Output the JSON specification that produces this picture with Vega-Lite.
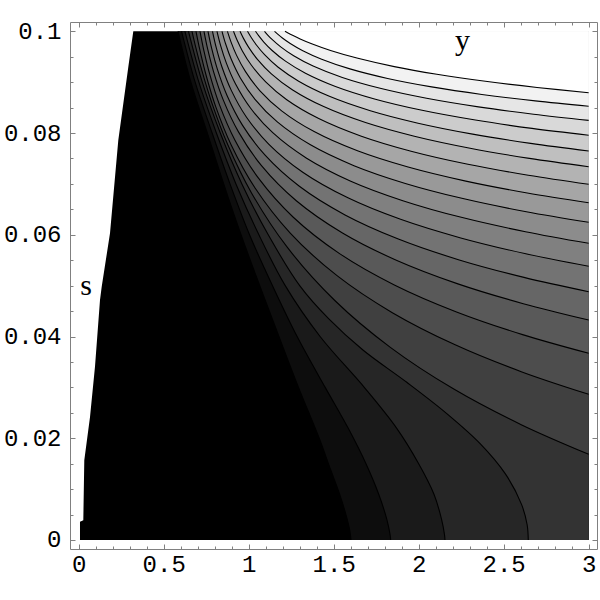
{
  "$schema": "https://vega.github.io/schema/vega-lite/v6.json",
  "width": 527,
  "height": 527,
  "autosize": {"type": "none"},
  "padding": {"left": 70, "top": 22, "right": 3, "bottom": 51},
  "background": "white",
  "config": {"view": {"stroke": null}},
  "datasets": {
    "edge": [
      {"x": 0.0076, "s": 0}, {"x": 0.0076, "s": 0.0036}, {"x": 0.0271, "s": 0.0039}, {"x": 0.0329, "s": 0.0157},
      {"x": 0.0665, "s": 0.0242}, {"x": 0.0959, "s": 0.0341}, {"x": 0.1253, "s": 0.0472}, {"x": 0.1353, "s": 0.0498},
      {"x": 0.1841, "s": 0.0603}, {"x": 0.2329, "s": 0.0786}, {"x": 0.2918, "s": 0.093}, {"x": 0.3212, "s": 0.1}
    ],
    "contours": [
      {"c":1,"i":0,"x":0.584,"s":0.1},{"c":1,"i":1,"x":0.66,"s":0.09},{"c":1,"i":2,"x":0.757,"s":0.08},{"c":1,"i":3,"x":0.853,"s":0.07},{"c":1,"i":4,"x":0.955,"s":0.06},{"c":1,"i":5,"x":1.065,"s":0.05},{"c":1,"i":6,"x":1.178,"s":0.04},{"c":1,"i":7,"x":1.293,"s":0.03},{"c":1,"i":8,"x":1.415,"s":0.02},{"c":1,"i":9,"x":1.48,"s":0.014},{"c":1,"i":10,"x":1.535,"s":0.009},{"c":1,"i":11,"x":1.572,"s":0.005},{"c":1,"i":12,"x":1.594,"s":0.002},{"c":1,"i":13,"x":1.602,"s":0},
      {"c":2,"i":0,"x":0.605,"s":0.1},{"c":2,"i":1,"x":0.685,"s":0.09},{"c":2,"i":2,"x":0.785,"s":0.08},{"c":2,"i":3,"x":0.89,"s":0.07},{"c":2,"i":4,"x":1.005,"s":0.06},{"c":2,"i":5,"x":1.14,"s":0.05},{"c":2,"i":6,"x":1.285,"s":0.04},{"c":2,"i":7,"x":1.45,"s":0.03},{"c":2,"i":8,"x":1.585,"s":0.022},{"c":2,"i":9,"x":1.69,"s":0.015},{"c":2,"i":10,"x":1.765,"s":0.009},{"c":2,"i":11,"x":1.813,"s":0.004},{"c":2,"i":12,"x":1.832,"s":0.001},{"c":2,"i":13,"x":1.8353,"s":0},
      {"c":3,"i":0,"x":0.625,"s":0.1},{"c":3,"i":1,"x":0.707,"s":0.09},{"c":3,"i":2,"x":0.81,"s":0.08},{"c":3,"i":3,"x":0.925,"s":0.07},{"c":3,"i":4,"x":1.06,"s":0.06},{"c":3,"i":5,"x":1.215,"s":0.05},{"c":3,"i":6,"x":1.42,"s":0.04},{"c":3,"i":7,"x":1.68,"s":0.03},{"c":3,"i":8,"x":1.87,"s":0.022},{"c":3,"i":9,"x":2.0,"s":0.015},{"c":3,"i":10,"x":2.09,"s":0.009},{"c":3,"i":11,"x":2.135,"s":0.004},{"c":3,"i":12,"x":2.152,"s":0.001},{"c":3,"i":13,"x":2.1547,"s":0},
      {"c":4,"i":0,"x":0.646,"s":0.1},{"c":4,"i":1,"x":0.727,"s":0.09},{"c":4,"i":2,"x":0.833,"s":0.08},{"c":4,"i":3,"x":0.96,"s":0.07},{"c":4,"i":4,"x":1.115,"s":0.06},{"c":4,"i":5,"x":1.3,"s":0.05},{"c":4,"i":6,"x":1.47,"s":0.0435},{"c":4,"i":7,"x":1.672,"s":0.03735},{"c":4,"i":8,"x":1.93,"s":0.031},{"c":4,"i":9,"x":2.16,"s":0.025},{"c":4,"i":10,"x":2.36,"s":0.019},{"c":4,"i":11,"x":2.51,"s":0.013},{"c":4,"i":12,"x":2.605,"s":0.007},{"c":4,"i":13,"x":2.638,"s":0.003},{"c":4,"i":14,"x":2.6447,"s":0},
      {"c":5,"i":0,"x":0.6665,"s":0.1},{"c":5,"i":1,"x":0.6898,"s":0.0967},{"c":5,"i":2,"x":0.7248,"s":0.09226},{"c":5,"i":3,"x":0.7832,"s":0.08594},{"c":5,"i":4,"x":0.8765,"s":0.07774},{"c":5,"i":5,"x":1.0165,"s":0.06823},{"c":5,"i":6,"x":1.2265,"s":0.05756},{"c":5,"i":7,"x":1.5066,"s":0.04708},{"c":5,"i":8,"x":1.8333,"s":0.03787},{"c":5,"i":9,"x":2.2066,"s":0.02967},{"c":5,"i":10,"x":2.6033,"s":0.02267},{"c":5,"i":11,"x":3,"s":0.01685},
      {"c":6,"i":0,"x":0.69,"s":0.1},{"c":6,"i":1,"x":0.7131,"s":0.09628},{"c":6,"i":2,"x":0.7478,"s":0.09156},{"c":6,"i":3,"x":0.8055,"s":0.08524},{"c":6,"i":4,"x":0.8979,"s":0.07759},{"c":6,"i":5,"x":1.0365,"s":0.06924},{"c":6,"i":6,"x":1.2444,"s":0.06034},{"c":6,"i":7,"x":1.5216,"s":0.05191},{"c":6,"i":8,"x":1.845,"s":0.04469},{"c":6,"i":9,"x":2.2146,"s":0.03837},{"c":6,"i":10,"x":2.6073,"s":0.03304},{"c":6,"i":11,"x":3,"s":0.02864},
      {"c":7,"i":0,"x":0.7135,"s":0.1},{"c":7,"i":1,"x":0.7364,"s":0.09621},{"c":7,"i":2,"x":0.7707,"s":0.09157},{"c":7,"i":3,"x":0.8278,"s":0.08559},{"c":7,"i":4,"x":0.9193,"s":0.07859},{"c":7,"i":5,"x":1.0565,"s":0.07118},{"c":7,"i":6,"x":1.2623,"s":0.06345},{"c":7,"i":7,"x":1.5366,"s":0.05625},{"c":7,"i":8,"x":1.8568,"s":0.05014},{"c":7,"i":9,"x":2.2226,"s":0.04483},{"c":7,"i":10,"x":2.6113,"s":0.04037},{"c":7,"i":11,"x":3,"s":0.0367},
      {"c":8,"i":0,"x":0.737,"s":0.1},{"c":8,"i":1,"x":0.7596,"s":0.09638},{"c":8,"i":2,"x":0.7936,"s":0.09203},{"c":8,"i":3,"x":0.8502,"s":0.08652},{"c":8,"i":4,"x":0.9407,"s":0.08018},{"c":8,"i":5,"x":1.0765,"s":0.07354},{"c":8,"i":6,"x":1.2801,"s":0.06669},{"c":8,"i":7,"x":1.5517,"s":0.06035},{"c":8,"i":8,"x":1.8685,"s":0.055},{"c":8,"i":9,"x":2.2306,"s":0.05035},{"c":8,"i":10,"x":2.6153,"s":0.04646},{"c":8,"i":11,"x":3,"s":0.04325},
      {"c":9,"i":0,"x":0.7606,"s":0.1},{"c":9,"i":1,"x":0.783,"s":0.09654},{"c":9,"i":2,"x":0.8166,"s":0.09246},{"c":9,"i":3,"x":0.8726,"s":0.08738},{"c":9,"i":4,"x":0.9621,"s":0.08161},{"c":9,"i":5,"x":1.0965,"s":0.07565},{"c":9,"i":6,"x":1.298,"s":0.06954},{"c":9,"i":7,"x":1.5668,"s":0.06391},{"c":9,"i":8,"x":1.8803,"s":0.05917},{"c":9,"i":9,"x":2.2386,"s":0.05506},{"c":9,"i":10,"x":2.6193,"s":0.05163},{"c":9,"i":11,"x":3,"s":0.04881},
      {"c":10,"i":0,"x":0.787,"s":0.1},{"c":10,"i":1,"x":0.8091,"s":0.09679},{"c":10,"i":2,"x":0.8423,"s":0.09303},{"c":10,"i":3,"x":0.8977,"s":0.08839},{"c":10,"i":4,"x":0.9862,"s":0.08316},{"c":10,"i":5,"x":1.119,"s":0.07779},{"c":10,"i":6,"x":1.3181,"s":0.0723},{"c":10,"i":7,"x":1.5837,"s":0.06727},{"c":10,"i":8,"x":1.8935,"s":0.06304},{"c":10,"i":9,"x":2.2476,"s":0.05938},{"c":10,"i":10,"x":2.6238,"s":0.05631},{"c":10,"i":11,"x":3,"s":0.0538},
      {"c":11,"i":0,"x":0.8135,"s":0.1},{"c":11,"i":1,"x":0.8354,"s":0.09714},{"c":11,"i":2,"x":0.8682,"s":0.09379},{"c":11,"i":3,"x":0.9228,"s":0.08963},{"c":11,"i":4,"x":1.0103,"s":0.08492},{"c":11,"i":5,"x":1.1415,"s":0.08007},{"c":11,"i":6,"x":1.3383,"s":0.07511},{"c":11,"i":7,"x":1.6006,"s":0.07054},{"c":11,"i":8,"x":1.9068,"s":0.06671},{"c":11,"i":9,"x":2.2566,"s":0.06338},{"c":11,"i":10,"x":2.6283,"s":0.0606},{"c":11,"i":11,"x":3,"s":0.05832},
      {"c":12,"i":0,"x":0.843,"s":0.1},{"c":12,"i":1,"x":0.8646,"s":0.0975},{"c":12,"i":2,"x":0.8969,"s":0.09454},{"c":12,"i":3,"x":0.9509,"s":0.09083},{"c":12,"i":4,"x":1.0371,"s":0.08661},{"c":12,"i":5,"x":1.1666,"s":0.08223},{"c":12,"i":6,"x":1.3607,"s":0.07773},{"c":12,"i":7,"x":1.6195,"s":0.07359},{"c":12,"i":8,"x":1.9215,"s":0.0701},{"c":12,"i":9,"x":2.2666,"s":0.06707},{"c":12,"i":10,"x":2.6333,"s":0.06453},{"c":12,"i":11,"x":3,"s":0.06245},
      {"c":13,"i":0,"x":0.875,"s":0.1},{"c":13,"i":1,"x":0.8963,"s":0.09788},{"c":13,"i":2,"x":0.9281,"s":0.09532},{"c":13,"i":3,"x":0.9813,"s":0.09207},{"c":13,"i":4,"x":1.0663,"s":0.08831},{"c":13,"i":5,"x":1.1938,"s":0.08437},{"c":13,"i":6,"x":1.385,"s":0.08029},{"c":13,"i":7,"x":1.64,"s":0.07651},{"c":13,"i":8,"x":1.9375,"s":0.07332},{"c":13,"i":9,"x":2.2775,"s":0.07055},{"c":13,"i":10,"x":2.6388,"s":0.06822},{"c":13,"i":11,"x":3,"s":0.06631},
      {"c":14,"i":0,"x":0.9106,"s":0.1},{"c":14,"i":1,"x":0.9315,"s":0.09828},{"c":14,"i":2,"x":0.9628,"s":0.09615},{"c":14,"i":3,"x":1.0151,"s":0.09337},{"c":14,"i":4,"x":1.1,"s":0.09007},{"c":14,"i":5,"x":1.224,"s":0.08655},{"c":14,"i":6,"x":1.412,"s":0.08285},{"c":14,"i":7,"x":1.6628,"s":0.07938},{"c":14,"i":8,"x":1.9553,"s":0.07643},{"c":14,"i":9,"x":2.2896,"s":0.07386},{"c":14,"i":10,"x":2.6448,"s":0.0717},{"c":14,"i":11,"x":3,"s":0.06992},
      {"c":15,"i":0,"x":0.9488,"s":0.1},{"c":15,"i":1,"x":0.9693,"s":0.09861},{"c":15,"i":2,"x":1.0001,"s":0.09685},{"c":15,"i":3,"x":1.0514,"s":0.09449},{"c":15,"i":4,"x":1.1334,"s":0.09164},{"c":15,"i":5,"x":1.2565,"s":0.08852},{"c":15,"i":6,"x":1.4411,"s":0.0852},{"c":15,"i":7,"x":1.6872,"s":0.08206},{"c":15,"i":8,"x":1.9744,"s":0.07937},{"c":15,"i":9,"x":2.3026,"s":0.07701},{"c":15,"i":10,"x":2.6513,"s":0.07502},{"c":15,"i":11,"x":3,"s":0.07338},
      {"c":16,"i":0,"x":0.993,"s":0.1},{"c":16,"i":1,"x":1.0131,"s":0.09887},{"c":16,"i":2,"x":1.0432,"s":0.0974},{"c":16,"i":3,"x":1.0934,"s":0.0954},{"c":16,"i":4,"x":1.1736,"s":0.09293},{"c":16,"i":5,"x":1.294,"s":0.09019},{"c":16,"i":6,"x":1.4747,"s":0.08722},{"c":16,"i":7,"x":1.7155,"s":0.08439},{"c":16,"i":8,"x":1.9965,"s":0.08194},{"c":16,"i":9,"x":2.3176,"s":0.07979},{"c":16,"i":10,"x":2.6588,"s":0.07797},{"c":16,"i":11,"x":3,"s":0.07647},
      {"c":17,"i":0,"x":1.04,"s":0.1},{"c":17,"i":1,"x":1.0596,"s":0.09909},{"c":17,"i":2,"x":1.089,"s":0.09789},{"c":17,"i":3,"x":1.138,"s":0.09623},{"c":17,"i":4,"x":1.2164,"s":0.09413},{"c":17,"i":5,"x":1.334,"s":0.09176},{"c":17,"i":6,"x":1.5104,"s":0.08916},{"c":17,"i":7,"x":1.7456,"s":0.08665},{"c":17,"i":8,"x":2.02,"s":0.08447},{"c":17,"i":9,"x":2.3336,"s":0.08255},{"c":17,"i":10,"x":2.6668,"s":0.08091},{"c":17,"i":11,"x":3,"s":0.07956},
      {"c":18,"i":0,"x":1.093,"s":0.1},{"c":18,"i":1,"x":1.1121,"s":0.09927},{"c":18,"i":2,"x":1.1407,"s":0.0983},{"c":18,"i":3,"x":1.1884,"s":0.09693},{"c":18,"i":4,"x":1.2646,"s":0.09518},{"c":18,"i":5,"x":1.379,"s":0.09316},{"c":18,"i":6,"x":1.5507,"s":0.09092},{"c":18,"i":7,"x":1.7795,"s":0.08874},{"c":18,"i":8,"x":2.0465,"s":0.08683},{"c":18,"i":9,"x":2.3516,"s":0.08514},{"c":18,"i":10,"x":2.6758,"s":0.0837},{"c":18,"i":11,"x":3,"s":0.0825},
      {"c":19,"i":0,"x":1.152,"s":0.1},{"c":19,"i":1,"x":1.1705,"s":0.09945},{"c":19,"i":2,"x":1.1982,"s":0.09869},{"c":19,"i":3,"x":1.2444,"s":0.09761},{"c":19,"i":4,"x":1.3183,"s":0.09619},{"c":19,"i":5,"x":1.4292,"s":0.09452},{"c":19,"i":6,"x":1.5955,"s":0.09262},{"c":19,"i":7,"x":1.8173,"s":0.09074},{"c":19,"i":8,"x":2.076,"s":0.08908},{"c":19,"i":9,"x":2.3717,"s":0.08759},{"c":19,"i":10,"x":2.6858,"s":0.08632},{"c":19,"i":11,"x":3,"s":0.08526},
      {"c":20,"i":0,"x":1.2135,"s":0.1},{"c":20,"i":1,"x":1.2314,"s":0.09967},{"c":20,"i":2,"x":1.2582,"s":0.09921},{"c":20,"i":3,"x":1.3028,"s":0.0985},{"c":20,"i":4,"x":1.3743,"s":0.0975},{"c":20,"i":5,"x":1.4815,"s":0.09623},{"c":20,"i":6,"x":1.6423,"s":0.09469},{"c":20,"i":7,"x":1.8566,"s":0.09306},{"c":20,"i":8,"x":2.1068,"s":0.09156},{"c":20,"i":9,"x":2.3926,"s":0.09017},{"c":20,"i":10,"x":2.6963,"s":0.08896},{"c":20,"i":11,"x":3,"s":0.08793}
    ],
    "labels": [
      {"x": 0.043, "s": 0.04816, "t": "s"},
      {"x": 2.258, "s": 0.09623, "t": "y"}
    ]
  },
  "resolve": {"axis": {"x": "independent", "y": "independent"}},
  "layer": [
    {
      "data": {"name": "edge"},
      "mark": {"type": "area", "orient": "horizontal", "interpolate": "linear", "color": "black"},
      "encoding": {
        "y": {"field": "s", "type": "quantitative", "scale": {"domain": [-0.00177, 0.10183], "nice": false, "zero": false},
          "axis": {"orient": "left", "title": null, "grid": false,
            "values": [0,0.005,0.01,0.015,0.02,0.025,0.03,0.035,0.04,0.045,0.05,0.055,0.06,0.065,0.07,0.075,0.08,0.085,0.09,0.095,0.1],
            "labelExpr": "abs(datum.value*50-round(datum.value*50))<1e-6 ? format(datum.value,'~g') : ''",
            "tickSize": {"condition": {"test": "abs(datum.value*50-round(datum.value*50))<1e-6", "value": -5}, "value": -3},
            "labelFont": "Liberation Mono", "labelFontSize": 24, "labelColor": "black", "labelPadding": 14,
            "labelOverlap": false, "labelBound": false, "labelFlush": false,
            "domainColor": "#808080", "tickColor": "#808080", "domainWidth": 1, "tickWidth": 1}},
        "x": {"field": "x", "type": "quantitative", "stack": null, "scale": {"domain": [-0.0512, 3.049], "nice": false, "zero": false},
          "axis": {"orient": "bottom", "title": null, "grid": false,
            "values": [0,0.1,0.2,0.3,0.4,0.5,0.6,0.7,0.8,0.9,1,1.1,1.2,1.3,1.4,1.5,1.6,1.7,1.8,1.9,2,2.1,2.2,2.3,2.4,2.5,2.6,2.7,2.8,2.9,3],
            "labelExpr": "abs(datum.value*2-round(datum.value*2))<1e-6 ? format(datum.value,'~g') : ''",
            "tickSize": {"condition": {"test": "abs(datum.value*2-round(datum.value*2))<1e-6", "value": -5}, "value": -3},
            "labelFont": "Liberation Mono", "labelFontSize": 24, "labelColor": "black", "labelPadding": 8,
            "labelOverlap": false, "labelBound": false, "labelFlush": false,
            "domainColor": "#808080", "tickColor": "#808080", "domainWidth": 1, "tickWidth": 1}},
        "x2": {"datum": 3}
      }
    },
    {
      "data": {"name": "contours"},
      "mark": {"type": "area", "orient": "horizontal", "interpolate": "catmull-rom"},
      "encoding": {
        "y": {"field": "s", "type": "quantitative", "scale": {"domain": [-0.00177, 0.10183], "nice": false, "zero": false},
          "axis": {"orient": "right", "title": null, "grid": false, "labels": false,
            "values": [0,0.005,0.01,0.015,0.02,0.025,0.03,0.035,0.04,0.045,0.05,0.055,0.06,0.065,0.07,0.075,0.08,0.085,0.09,0.095,0.1],
            "tickSize": {"condition": {"test": "abs(datum.value*50-round(datum.value*50))<1e-6", "value": -5}, "value": -3},
            "domainColor": "#808080", "tickColor": "#808080", "domainWidth": 1, "tickWidth": 1}},
        "x": {"field": "x", "type": "quantitative", "stack": null, "scale": {"domain": [-0.0512, 3.049], "nice": false, "zero": false},
          "axis": {"orient": "top", "title": null, "grid": false, "labels": false,
            "values": [0,0.1,0.2,0.3,0.4,0.5,0.6,0.7,0.8,0.9,1,1.1,1.2,1.3,1.4,1.5,1.6,1.7,1.8,1.9,2,2.1,2.2,2.3,2.4,2.5,2.6,2.7,2.8,2.9,3],
            "tickSize": {"condition": {"test": "abs(datum.value*2-round(datum.value*2))<1e-6", "value": -5}, "value": -3},
            "domainColor": "#808080", "tickColor": "#808080", "domainWidth": 1, "tickWidth": 1}},
        "x2": {"datum": 3},
        "color": {"field": "c", "type": "ordinal", "legend": null,
          "scale": {"domain": [1,2,3,4,5,6,7,8,9,10,11,12,13,14,15,16,17,18,19,20],
            "range": ["#0d0d0d","#1a1a1a","#262626","#333333","#404040","#4d4d4d","#595959","#666666","#737373","#808080","#8c8c8c","#999999","#a6a6a6","#b3b3b3","#bfbfbf","#cccccc","#d9d9d9","#e6e6e6","#f2f2f2","#ffffff"]}}
      }
    },
    {
      "data": {"name": "contours"},
      "mark": {"type": "line", "interpolate": "catmull-rom", "color": "black", "strokeWidth": 1.1},
      "encoding": {
        "y": {"field": "s", "type": "quantitative", "scale": {"domain": [-0.00177, 0.10183], "nice": false, "zero": false}, "axis": null},
        "x": {"field": "x", "type": "quantitative", "scale": {"domain": [-0.0512, 3.049], "nice": false, "zero": false}, "axis": null},
        "detail": {"field": "c", "type": "nominal"},
        "order": {"field": "i", "type": "quantitative"}
      }
    },
    {
      "data": {"name": "labels"},
      "mark": {"type": "text", "font": "Liberation Serif", "fontSize": 30, "align": "center", "baseline": "alphabetic", "color": "black"},
      "encoding": {
        "y": {"field": "s", "type": "quantitative", "scale": {"domain": [-0.00177, 0.10183], "nice": false, "zero": false}, "axis": null},
        "x": {"field": "x", "type": "quantitative", "scale": {"domain": [-0.0512, 3.049], "nice": false, "zero": false}, "axis": null},
        "text": {"field": "t"}
      }
    }
  ]
}
